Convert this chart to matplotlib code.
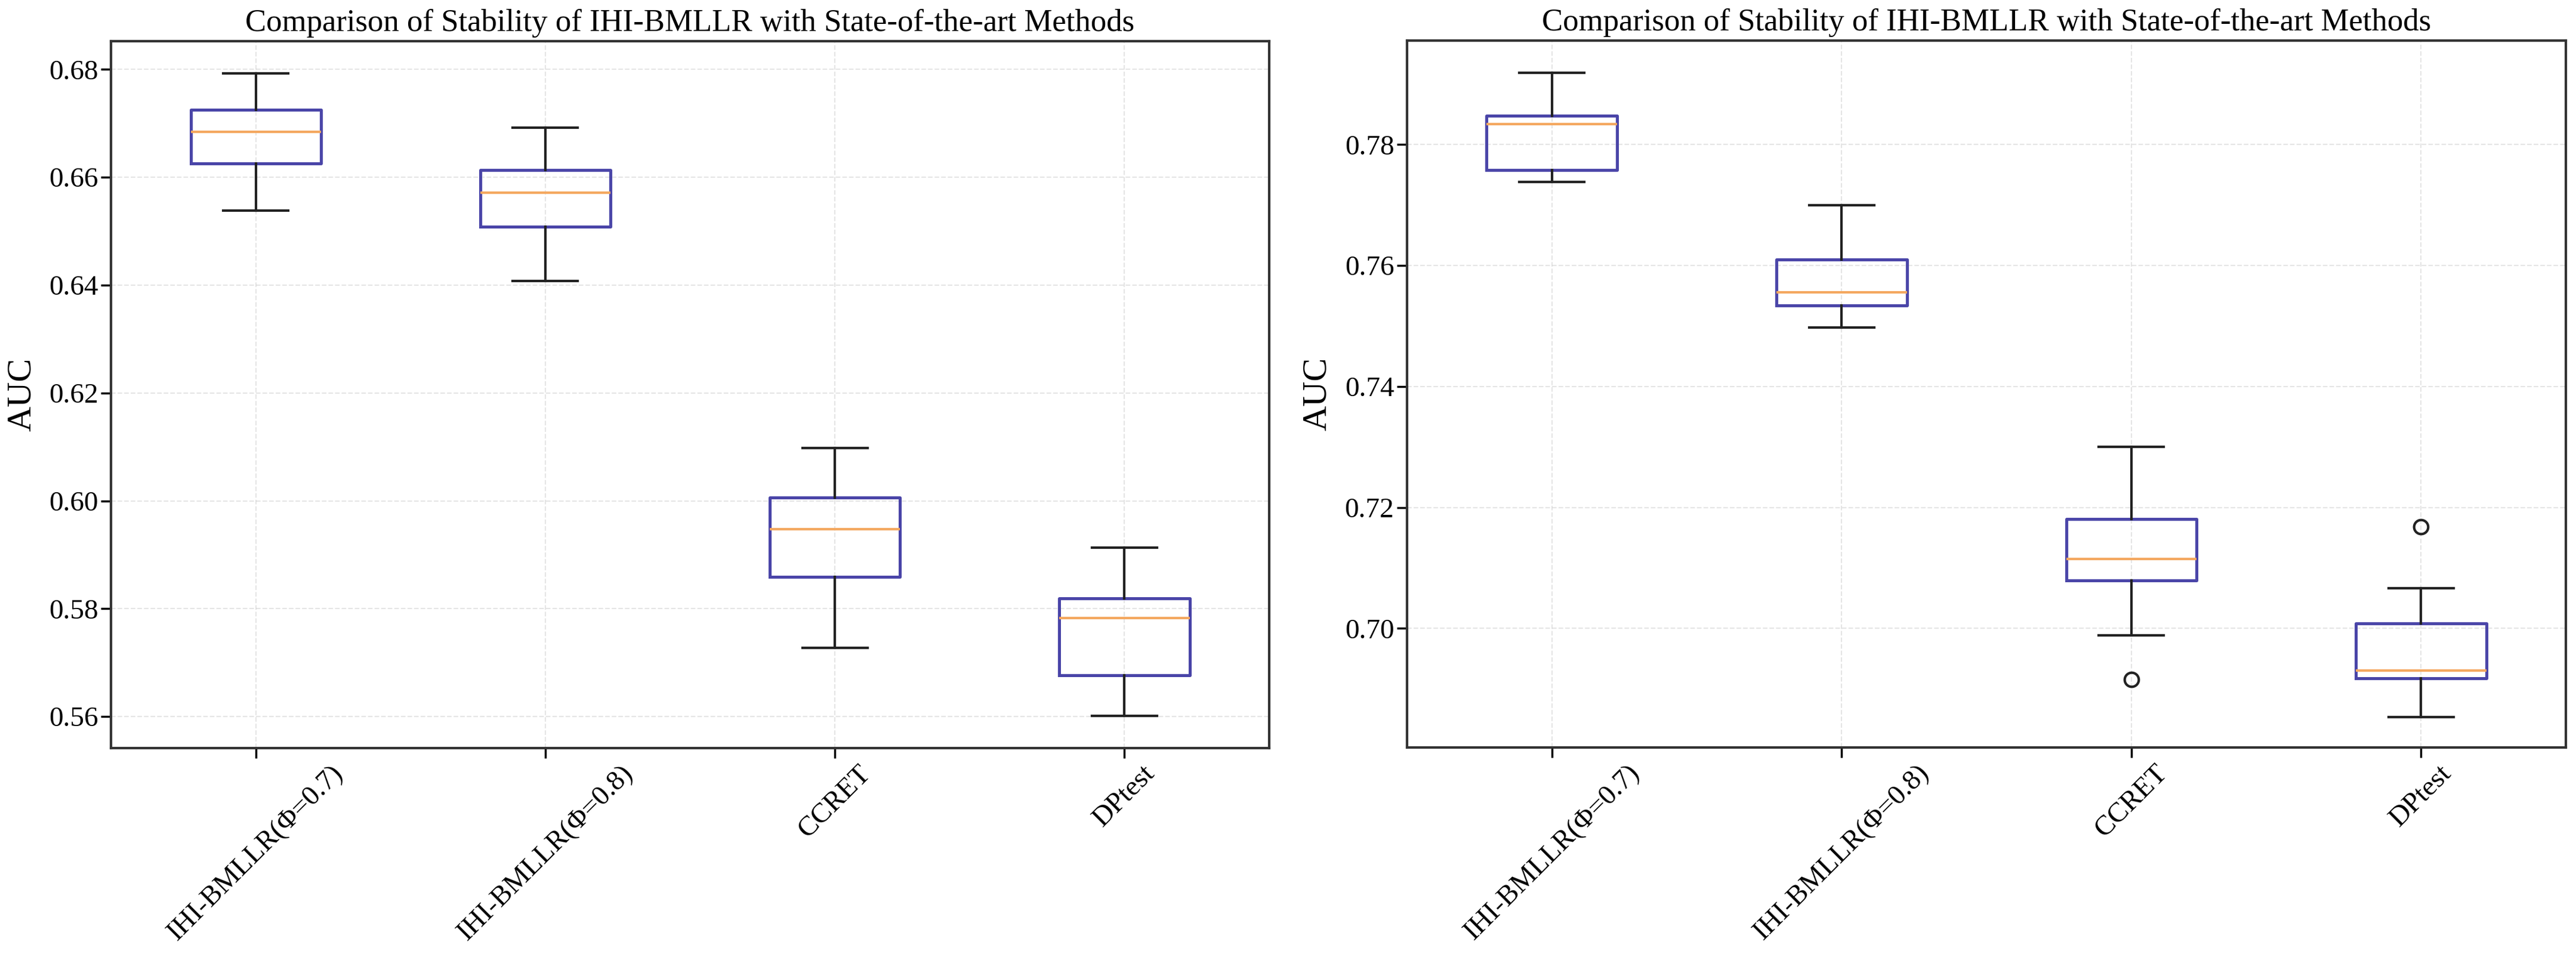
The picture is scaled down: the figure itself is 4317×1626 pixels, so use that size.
import matplotlib
matplotlib.use("Agg")
import matplotlib.pyplot as plt

plt.rcParams['font.family'] = ['Liberation Serif', 'DejaVu Serif']

methods = ['IHI-BMLLR(Φ=0.7)', 'IHI-BMLLR(Φ=0.8)', 'CCRET', 'DPtest']
title = 'Comparison of Stability of IHI-BMLLR with State-of-the-art Methods'

# left panel box statistics
left_lo = [0.6538, 0.6408, 0.5727, 0.5601]
left_q1 = [0.6626, 0.6508, 0.5859, 0.5676]
left_med = [0.6684, 0.6571, 0.5947, 0.5783]
left_q3 = [0.6725, 0.6613, 0.6006, 0.5819]
left_hi = [0.6793, 0.6692, 0.6098, 0.5913]
left_fliers = [[], [], [], []]

# right panel box statistics
right_lo = [0.7738, 0.7497, 0.6988, 0.6853]
right_q1 = [0.7758, 0.7534, 0.7079, 0.6917]
right_med = [0.7834, 0.7556, 0.7115, 0.6930]
right_q3 = [0.7848, 0.7610, 0.7181, 0.7008]
right_hi = [0.7919, 0.7700, 0.7300, 0.7066]
right_fliers = [[], [], [0.6915], [0.7168]]


def make_stats(lo, q1, med, q3, hi, fliers):
    return [dict(label=m, whislo=a, q1=b, med=c, q3=d, whishi=e, fliers=f)
            for m, a, b, c, d, e, f in zip(methods, lo, q1, med, q3, hi, fliers)]


def draw_panel(ax, stats):
    ax.bxp(stats, widths=0.45,
           boxprops=dict(color='#4a45a8', linewidth=3.6),
           medianprops=dict(color='#f4a860', linewidth=3.0),
           whiskerprops=dict(color='#222222', linewidth=3.0),
           capprops=dict(color='#222222', linewidth=3.0),
           flierprops=dict(marker='o', markersize=17, markerfacecolor='none',
                           markeredgecolor='#222222', markeredgewidth=3.0))
    ax.grid(True, linestyle='--', color='#cccccc', linewidth=1.5, alpha=0.5)
    ax.set_title(title, fontsize=38, pad=12)
    ax.set_ylabel('AUC', fontsize=42, labelpad=14)
    ax.tick_params(axis='both', labelsize=34, length=12, width=2.5)
    ax.tick_params(axis='x', labelrotation=45)
    for s in ax.spines.values():
        s.set_linewidth(3)
        s.set_color('#333333')


fig = plt.figure(figsize=(43.17, 16.26), dpi=100)
ax1 = fig.add_axes([0.0431, 0.2288, 0.4496, 0.7288])
ax2 = fig.add_axes([0.5462, 0.2294, 0.4499, 0.7288])

draw_panel(ax1, make_stats(left_lo, left_q1, left_med, left_q3, left_hi, left_fliers))
draw_panel(ax2, make_stats(right_lo, right_q1, right_med, right_q3, right_hi, right_fliers))
ax2.set_ylim(0.6803, 0.7972)

fig.savefig('out.png', dpi=100)
